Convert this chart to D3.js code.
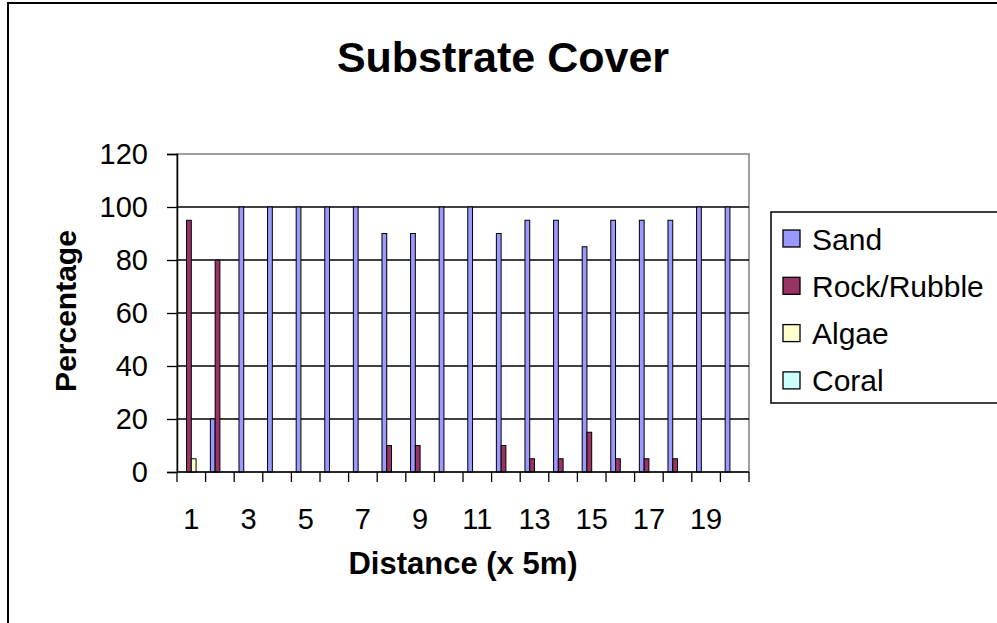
<!DOCTYPE html>
<html><head><meta charset="utf-8">
<script src="https://cdn.jsdelivr.net/npm/d3@7"></script>
<style>
html,body{margin:0;padding:0;background:#fff;}
svg{display:block;font-family:Arial,"Liberation Sans",sans-serif;}
</style></head>
<body>
<svg id="chart" width="997" height="623"></svg>
<script>
const categories = ["1","2","3","4","5","6","7","8","9","10","11","12","13","14","15","16","17","18","19","20"];
const seriesNames = ["Sand","Rock/Rubble","Algae","Coral"];
const sand   = [0,20,100,100,100,100,100,90,90,100,100,90,95,95,85,95,95,95,100,100];
const rock   = [95,80,0,0,0,0,0,10,10,0,0,10,5,5,15,5,5,5,0,0];
const algae  = [5,0,0,0,0,0,0,0,0,0,0,0,0,0,0,0,0,0,0,0];
const coral  = [0,0,0,0,0,0,0,0,0,0,0,0,0,0,0,0,0,0,0,0];
const colors = ["#9999FF","#993366","#FFFFCC","#CCFFFF"];
const yTicks = [0,20,40,60,80,100,120];
const xTickLabels = ["1","3","5","7","9","11","13","15","17","19"];

const values = [sand, rock, algae, coral];
const svg = d3.select("#chart");
const FONT = "Arial, 'Liberation Sans', sans-serif";

// outer chart border
svg.append("rect").attr("x",8).attr("y",3).attr("width",1100).attr("height",700)
  .attr("fill","#fff").attr("stroke","#000").attr("stroke-width",2);

const L=177, R=749, T=154, B=472;
const x0 = d3.scaleBand().domain(categories).range([L,R]).paddingInner(1/3).paddingOuter(1/6);
const x1 = d3.scaleBand().domain(seriesNames).range([0,x0.bandwidth()]);
const y = d3.scaleLinear().domain([0,120]).range([B,T]);

// plot border (gray)
svg.append("rect").attr("x",L).attr("y",T).attr("width",R-L).attr("height",B-T)
  .attr("fill","#fff").attr("stroke","#808080").attr("stroke-width",1.5);

// gridlines
svg.append("g").selectAll("line").data(yTicks.filter(d=>d>0 && d<120)).join("line")
  .attr("x1",L).attr("x2",R).attr("y1",d=>y(d)).attr("y2",d=>y(d))
  .attr("stroke","#000").attr("stroke-width",1.3);

// bars
const rows = categories.map((c,i)=>({c, vals: seriesNames.map((s,j)=>({s, v: values[j][i], col: colors[j]}))}));
svg.append("g").selectAll("g").data(rows).join("g")
  .attr("transform",d=>`translate(${x0(d.c)},0)`)
  .selectAll("rect").data(d=>d.vals.filter(v=>v.v>0)).join("rect")
  .attr("x",d=>x1(d.s)).attr("width",x1.bandwidth())
  .attr("y",d=>y(d.v)).attr("height",d=>y(0)-y(d.v))
  .attr("fill",d=>d.col).attr("stroke","#000").attr("stroke-width",1);

// y axis
const yAxis = d3.axisLeft(y).tickValues(yTicks).tickSize(10).tickPadding(19).tickFormat(d3.format("d"));
const gy = svg.append("g").attr("transform",`translate(${L},0)`).call(yAxis);
gy.select(".domain").attr("stroke","#000").attr("stroke-width",1.5);
gy.selectAll(".tick line").attr("stroke","#000").attr("stroke-width",1.3);
gy.selectAll("text").attr("font-size",29).attr("fill","#000").attr("font-family",FONT);

// x axis
const xAxis = d3.axisBottom(x0).tickSize(0).tickPadding(36)
  .tickFormat(d=>xTickLabels.includes(d)?d:"");
const gx = svg.append("g").attr("transform",`translate(0,${B})`).call(xAxis);
gx.select(".domain").remove();
gx.selectAll("text").attr("font-size",29).attr("fill","#000").attr("font-family",FONT);
svg.append("line").attr("x1",L).attr("x2",R).attr("y1",B).attr("y2",B).attr("stroke","#000").attr("stroke-width",1.5);
// category boundary ticks
const bounds = categories.map(c=>x0(c)-x0.step()*x0.paddingOuter()).concat([R]);
svg.append("g").selectAll("line").data(bounds).join("line")
  .attr("x1",d=>d).attr("x2",d=>d).attr("y1",B).attr("y2",B+10)
  .attr("stroke","#000").attr("stroke-width",1.3);

// titles
svg.append("text").attr("x",503).attr("y",72).attr("text-anchor","middle")
  .attr("font-size",43).attr("font-weight","bold").text("Substrate Cover");
svg.append("text").attr("transform","translate(76,311) rotate(-90)").attr("text-anchor","middle")
  .attr("font-size",30).attr("font-weight","bold").text("Percentage");
svg.append("text").attr("x",463).attr("y",574).attr("text-anchor","middle")
  .attr("font-size",31).attr("font-weight","bold").text("Distance (x 5m)");

// legend
svg.append("rect").attr("x",771).attr("y",212).attr("width",260).attr("height",191)
  .attr("fill","#fff").attr("stroke","#000").attr("stroke-width",1.5);
const lg = svg.append("g").selectAll("g").data(seriesNames).join("g")
  .attr("transform",(d,i)=>`translate(783,${238.5+i*47.3})`);
lg.append("rect").attr("x",0).attr("y",-8.5).attr("width",17).attr("height",17)
  .attr("fill",(d,i)=>colors[i]).attr("stroke","#000").attr("stroke-width",1.3);
lg.append("text").attr("x",29).attr("y",11).attr("font-size",30).text(d=>d);
</script>
</body></html>
